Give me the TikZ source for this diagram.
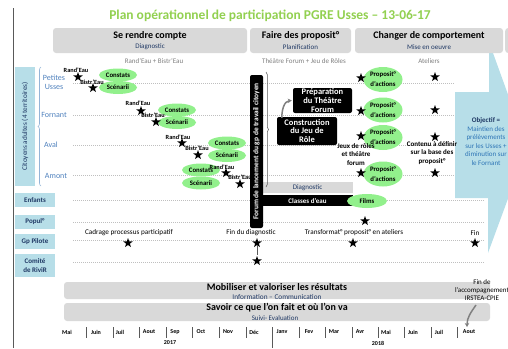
\documentclass[tikz,border=0pt]{standalone}
\usepackage{fontspec}
\setmainfont{Carlito}
\usetikzlibrary{shapes.geometric,arrows.meta,decorations.pathreplacing,calc}
\definecolor{titlegreen}{HTML}{92D050}
\definecolor{hdrgray}{HTML}{D9D9D9}
\definecolor{paleblue}{HTML}{B7DEE8}
\definecolor{navy}{HTML}{1F3864}
\definecolor{rowblue}{HTML}{4F81BD}
\definecolor{objblue}{HTML}{2E75B6}
\definecolor{elgreen}{HTML}{92F08C}
\definecolor{dotgray}{HTML}{BFBFBF}
\definecolor{subgray}{HTML}{7F7F7F}
\definecolor{framegray}{HTML}{595959}
\newcommand{\fsz}[1]{\fontsize{#1}{#1}\selectfont}
\tikzset{
  hdrbox/.style={fill=hdrgray, rounded corners=3pt, inner sep=0},
  hdrtxt/.style={font=\fsz{10}\bfseries, inner sep=0},
  hdrsub/.style={font=\fsz{7}, text=navy, inner sep=0},
  subtl/.style={font=\fsz{7}, text=subgray, inner sep=0},
  catbox/.style={fill=paleblue, text=navy, font=\fontsize{7}{8.5}\selectfont\bfseries, align=center, inner sep=0, minimum width=40pt},
  rowlbl/.style={text=rowblue, font=\fontsize{8}{9}\selectfont, align=center, inner sep=0},
  guide/.style={dotgray, dash pattern=on 1pt off 1pt, line width=0.5pt},
  st/.style={star, star points=5, star point ratio=2.5, fill=black, inner sep=0, minimum size=10pt},
  lbl/.style={font=\fsz{6.3}\bfseries, inner sep=0},
  grn/.style={ellipse, fill=elgreen, inner sep=0, font=\fontsize{6.8}{10}\selectfont\bfseries, align=center},
  blk/.style={fill=black, rounded corners=2pt, text=white, font=\fontsize{8.5}{8.8}\selectfont\bfseries, align=center, inner sep=0},
  mon/.style={font=\fsz{6}\bfseries, inner sep=0},
  sepline/.style={framegray, line width=0.6pt},
  note/.style={font=\fontsize{7}{8.3}\selectfont\bfseries, align=center, inner sep=0},
  barbox/.style={fill=hdrgray, rounded corners=3pt, inner sep=0, minimum width=426pt},
  plain/.style={font=\fsz{7.2}, inner sep=0},
}
\begin{document}
\begin{tikzpicture}[x=1pt,y=-1pt]
\useasboundingbox (0,0) rectangle (508,348);
\clip (0,0) rectangle (508,348);
% frame line
\draw[framegray, line width=0.7pt] (13,8) -- (13,348);
% guides
\foreach \y in {83,115,145,175} \draw[guide] (73,\y) -- (455,\y);
\foreach \y in {200,222,240,262} \draw[guide] (73,\y) -- (485,\y);
% objective arrow
\fill[paleblue] (455,92) -- (489,92) -- (489,42) -- (527,147) -- (488,253) -- (488,198) -- (455,198) -- cycle;
\node[font=\fontsize{7}{8.6}\selectfont, text=objblue, align=center, inner sep=0] (obj) at (486,141.5) {{\bfseries\color{navy}Objectif =}\\Maintien des\\prélèvements\\sur les Usses +\\diminution sur\\le Fornant};
% title
\node[font=\fsz{13.5}\bfseries, text=titlegreen, inner sep=0] (title) at (270,16) {Plan opérationnel de participation PGRE Usses – 13-06-17};
% headers
\node[hdrbox, minimum width=194pt, minimum height=25pt] (h1) at (150,40.5) {};
\node[hdrbox, minimum width=101pt, minimum height=25pt] (h2) at (300.5,40.5) {};
\node[hdrbox, minimum width=148pt, minimum height=25pt] (h3) at (429,40.5) {};
\node[hdrbox, minimum width=60pt, minimum height=25pt, anchor=west] (h4) at (505,40.5) {};
\node[hdrtxt] (h1t) at (150,36) {Se rendre compte};
\node[hdrsub] (h1s) at (150,47) {Diagnostic};
\node[hdrtxt] (h2t) at (300.5,35.5) {Faire des proposit°};
\node[hdrsub] (h2s) at (300.5,47) {Planification};
\node[hdrtxt] (h3t) at (429,36) {Changer de comportement};
\node[hdrsub] (h3s) at (429,47) {Mise en oeuvre};
\node[subtl] (st1) at (154,61) {Rand’Eau + Bistr’Eau};
\node[subtl] (st2) at (304,61) {Théâtre Forum + Jeu de Rôles};
\node[subtl] (st3) at (429,61) {Ateliers};
% citizen panel
\node[fill=paleblue, rotate=90, minimum width=119pt, minimum height=20pt, inner sep=0, text=navy, font=\fsz{7.2}] (cit) at (25,126.5) {Citoyens adultes (4 territoires)};
\draw[rowblue!60, line width=0.6pt, decorate, decoration={brace, amplitude=3pt}] (41,186) -- (41,67);
\node[rowlbl] (pu) at (54,82.5) {Petites\\Usses};
\node[rowlbl] (fo) at (54,115) {Fornant};
\node[rowlbl] (av) at (51,145) {Aval};
\node[rowlbl] (am) at (56,175.5) {Amont};
% categories
\node[catbox, minimum height=14pt] (enf) at (35,200) {Enfants};
\node[catbox, minimum height=14pt] (pop) at (35,222) {Popul°};
\node[catbox, minimum height=15pt] (gp) at (35,241.5) {Gp Pilote};
\node[catbox, minimum height=23pt] (com) at (35,265.5) {Comité\\de RiviR};
% diagnostic: constats / scenarii
\node[grn, minimum width=38pt, minimum height=13pt] (c1) at (118,75) {Constats};
\node[grn, minimum width=38pt, minimum height=13pt] (r1) at (118,87.5) {Scénarii};
\node[grn, minimum width=38pt, minimum height=13pt] (c2) at (177,110) {Constats};
\node[grn, minimum width=38pt, minimum height=13pt] (r2) at (177,122.5) {Scénarii};
\node[grn, minimum width=38pt, minimum height=13pt] (c3) at (227,143) {Constats};
\node[grn, minimum width=38pt, minimum height=13pt] (r3) at (227,155.5) {Scénarii};
\node[grn, minimum width=38pt, minimum height=13pt] (c4) at (201,170) {Constats};
\node[grn, minimum width=38pt, minimum height=13pt] (r4) at (201,183) {Scénarii};
% Rand'Eau / Bistr'Eau stars
\node[st] (sa1) at (78,77) {};
\node[lbl] (la1) at (76,70.5) {Rand’Eau};
\node[st] (sb1) at (93,88) {};
\node[lbl] (lb1) at (92,82) {Bistr’Eau};
\node[st] (sa2) at (141,111) {};
\node[lbl] (la2) at (138,103.5) {Rand’Eau};
\node[st] (sb2) at (156,122) {};
\node[lbl] (lb2) at (153,115) {Bistr’Eau};
\node[st] (sa3) at (182,143) {};
\node[lbl] (la3) at (178,137) {Rand’Eau};
\node[st] (sb3) at (198,155) {};
\node[lbl] (lb3) at (197,148) {Bistr’Eau};
\node[st] (sa4) at (226,173) {};
\node[lbl] (la4) at (222,167) {Rand’Eau};
\node[st] (sb4) at (240,184) {};
\node[lbl] (lb4) at (240,177.5) {Bistr’Eau};
% planning column
\node[fill=hdrgray, minimum width=91pt, minimum height=11pt, inner sep=0, font=\fsz{7}, text=navy] (diag) at (307.5,187.5) {Diagnostic};
\node[blk, rounded corners=0pt, minimum width=91pt, minimum height=11pt, font=\fsz{7}\bfseries] (cde) at (307.5,200.5) {Classes d’eau};
\node[grn, minimum width=40pt, minimum height=14pt] (films) at (367,201) {Films};
\node[blk, rotate=90, minimum width=153pt, minimum height=13pt, font=\fsz{7.4}\bfseries] (forum) at (256.5,151.5) {Forum de lancement du gp de travail citoyen};
\draw[framegray, line width=0.5pt, decorate, decoration={brace, amplitude=2.5pt}] (266,72) -- (266,187);
\node[blk, minimum width=59pt, minimum height=25pt] (prep) at (322.5,100.5) {Préparation\\du Théâtre\\Forum};
\node[blk, minimum width=60pt, minimum height=28pt] (cons) at (307,131) {Construction\\du Jeu de\\Rôle};
\draw[-{Stealth[length=4pt,width=4.5pt]}, gray, line width=1.5pt] ([xshift=5pt,yshift=-1pt]cons.north west) to[out=90,in=185] ([xshift=-1pt]prep.west);
% propositions
\node[grn, minimum width=39pt, minimum height=25pt] (p1) at (383,79.5) {Proposit°\\d’actions};
\node[grn, minimum width=39pt, minimum height=25pt] (p2) at (383,110) {Proposit°\\d’actions};
\node[grn, minimum width=39pt, minimum height=25pt] (p3) at (383,137.5) {Proposit°\\d’actions};
\node[grn, minimum width=39pt, minimum height=25pt] (p4) at (383,174) {Proposit°\\d’actions};
\node[st] (sp1) at (361,78) {};
\node[st] (sp2) at (361,111) {};
\node[st] (sp3) at (361,136) {};
\node[st] (sp4) at (361,173) {};
\node[note] (jeux) at (356,154.5) {Jeux de rôles\\et théâtre\\forum};
% ateliers
\node[st] (sw1) at (435,77) {};
\node[st] (sw2) at (435,110) {};
\node[st] (sw3) at (435,137) {};
\node[st] (sw4) at (435,173) {};
\node[note] (cont) at (432,153) {Contenu à définir\\sur la base des\\proposit°};
% lower rows
\node[st] (spop) at (365,221) {};
\node[plain] (cad) at (129,233) {Cadrage processus participatif};
\node[st] (scad) at (128,243) {};
\node[plain] (fdd) at (251,233) {Fin du diagnostic};
\node[st] (sf1) at (257,243) {};
\node[st] (sf2) at (257,261) {};
\draw[framegray, line width=0.5pt] (sf1) -- (sf2);
\node[plain] (trf) at (354,233) {Transformat° proposit° en ateliers};
\node[st] (strf) at (353,243) {};
\node[plain] (fin) at (475,233) {Fin};
\node[st] (sfin) at (475,243) {};
% bottom bars
\node[barbox, minimum height=17pt] (bar1) at (277,290.5) {};
\node[font=\fsz{10}\bfseries, inner sep=0] (bar1t) at (277,287) {Mobiliser et valoriser les résultats};
\node[font=\fsz{7.3}, text=navy, inner sep=0] (bar1s) at (277,296.5) {Information – Communication};
\node[barbox, minimum height=18pt] (bar2) at (277,312) {};
\node[font=\fsz{10}\bfseries, inner sep=0] (bar2t) at (277,308) {Savoir ce que l’on fait et où l’on va};
\node[font=\fsz{7}, text=navy, inner sep=0] (bar2s) at (275,318) {Suivi- Evaluation};
\node[font=\fontsize{7}{8}\selectfont, align=center, inner sep=0] (facc) at (482,290) {Fin de\\l’accompagnement\\IRSTEA-CPIE};
\coordinate (fa) at (476,305);
\coordinate (fb) at (467,327);
\draw[-{Stealth[length=4pt,width=4.5pt]}, gray, line width=1.5pt] (fa) to[out=235,in=90] (fb);
% timeline
\foreach \x/\m [count=\i] in {67/Mai,96/Juin,120/Juil,149/Aout,175/Sep,201/Oct,228/Nov,254/Déc,282/Janv,309/Fev,334/Mar,360/Avr,386/Mai,413/Juin,439/Juil,469/Aout}
  \node[mon] (m\i) at (\x,332) {\m};
\foreach \x in {86,113,139,166,192,219,246,299,325,352,378,404,431,457}
  \draw[sepline] (\x,327) -- (\x,338);
\draw[sepline] (272,327) -- (272,348);
\node[mon] (y17) at (170,343) {2017};
\node[mon] (y18) at (378,343) {2018};
\end{tikzpicture}
\end{document}
